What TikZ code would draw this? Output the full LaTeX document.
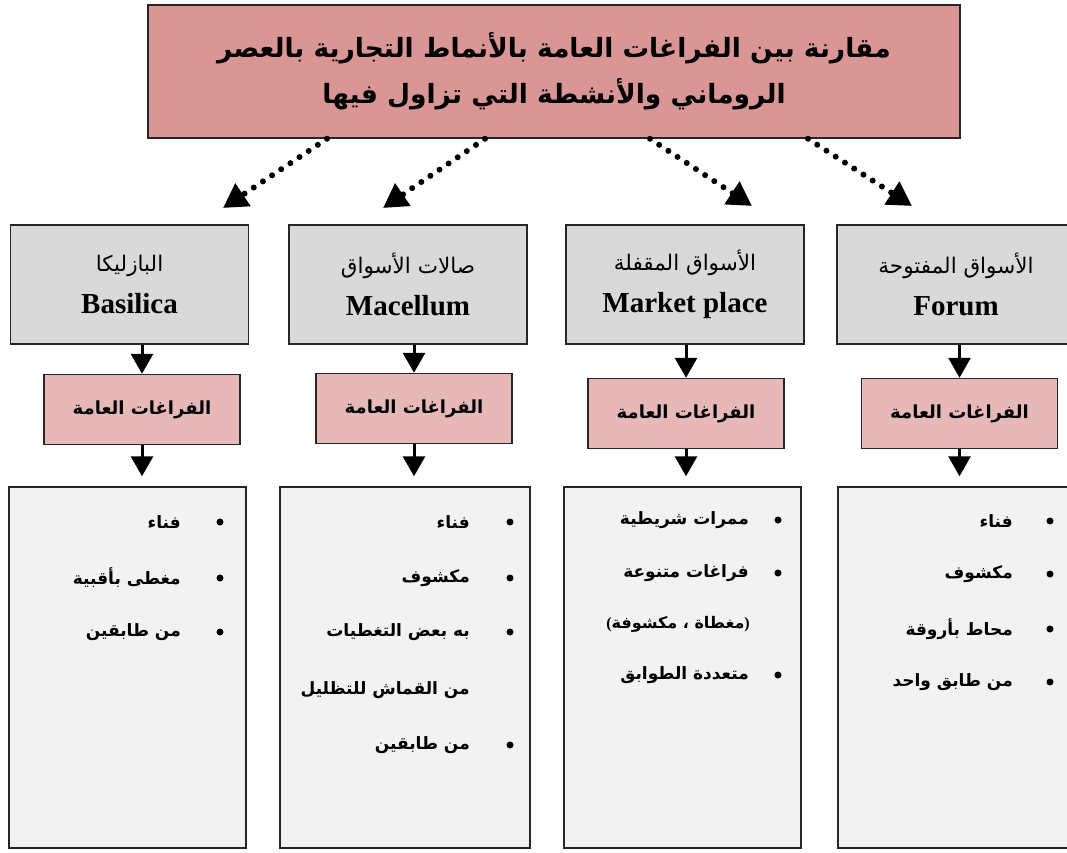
\documentclass[tikz,border=0pt]{standalone}
\usepackage{fontspec}
\setmainfont{Liberation Serif}
\newfontfamily\arabicfont[Script=Arabic]{DejaVu Sans}
\TeXXeTstate=1
\usetikzlibrary{arrows.meta}

\definecolor{titlepink}{RGB}{217,150,148}
\definecolor{spacepink}{RGB}{230,185,184}
\definecolor{headgrey}{RGB}{217,217,217}
\definecolor{listgrey}{RGB}{242,242,242}

\tikzset{
  box/.style={draw=black!85, line width=1.5pt, inner sep=0pt, align=center},
  titlebox/.style={box, fill=titlepink, minimum width=812pt, minimum height=133pt,
    font=\arabicfont\bfseries\fontsize{26.5}{46}\selectfont},
  headbox/.style={box, fill=headgrey, minimum width=238pt, minimum height=119pt},
  spacebox/.style={box, fill=spacepink, minimum width=196pt, minimum height=70pt,
    font=\arabicfont\bfseries\fontsize{18}{20}\selectfont},
  listbox/.style={box, fill=listgrey, minimum height=361pt},
  entry/.style={anchor=east, inner sep=0pt, font=\arabicfont\bfseries\fontsize{17}{20}\selectfont},
  itemdot/.style={circle, fill=black, inner sep=0pt, minimum size=7pt},
  godown/.style={line width=3pt, -{Triangle[length=20pt,width=22pt]}},
  linkdots/.style={line width=6pt, line cap=round, dash pattern=on 0pt off 11pt,
    -{Triangle[length=24pt,width=26pt]}},
}

\newcommand\headtext[2]{{\arabicfont\fontsize{21.5}{24}\selectfont\beginR #1\endR}\\[16pt]{\bfseries\fontsize{29}{30}\selectfont #2}}

\begin{document}
\begin{tikzpicture}[x=1pt,y=-1pt]
  \path[use as bounding box, fill=white] (0,0) rectangle (1067,852);

  \node[titlebox] (title) at (554,71.5)
    {\beginR مقارنة بين الفراغات العامة بالأنماط التجارية بالعصر\endR\\
     \beginR الروماني والأنشطة التي تزاول فيها\endR};

  \node[headbox] (head1) at (129.5,284.5) {\headtext{البازليكا}{Basilica}};
  \node[headbox] (head2) at (408,284.5) {\headtext{صالات الأسواق}{Macellum}};
  \node[headbox] (head3) at (685,284.5) {\headtext{الأسواق المقفلة}{Market place}};
  \node[headbox] (head4) at (956,284.5) {\headtext{الأسواق المفتوحة}{Forum}};

  \node[spacebox] (space1) at (142,409.5) {\beginR الفراغات العامة\endR};
  \node[spacebox] (space2) at (414,408.5) {\beginR الفراغات العامة\endR};
  \node[spacebox] (space3) at (686,413.5) {\beginR الفراغات العامة\endR};
  \node[spacebox] (space4) at (959.5,413.5) {\beginR الفراغات العامة\endR};

  \node[listbox, minimum width=237pt] (list1) at (127.5,667.5) {};
  \node[listbox, minimum width=250pt] (list2) at (405,667.5) {};
  \node[listbox, minimum width=237pt] (list3) at (682.5,667.5) {};
  \node[listbox, minimum width=238pt] (list4) at (957,667.5) {};

  \coordinate (tip1) at (223,208);
  \coordinate (tip2) at (383,208);
  \coordinate (tip3) at (752,206);
  \coordinate (tip4) at (912,206);
  \draw[linkdots] ([xshift=-227pt]title.south) -- (tip1);
  \draw[linkdots] ([xshift=-69pt]title.south) -- (tip2);
  \draw[linkdots] ([xshift=96pt]title.south) -- (tip3);
  \draw[linkdots] ([xshift=254pt]title.south) -- (tip4);

  \foreach \i in {1,...,4} {
    \draw[godown] (head\i.south -| space\i.north) -- (space\i.north);
    \draw[godown, shorten >=10pt] (space\i.south) -- (space\i.south |- list\i.north);
  }

  \foreach \y/\t [count=\i] in {522/فناء, 578/مغطى بأقبية, 632/من طابقين} {
    \node[itemdot] (dota\i) at (220,\y) {};
    \node[entry] (itema\i) at (181,\y) {\beginR\t\endR};
  }
  \foreach \y/\t [count=\i] in {522/فناء, 578/مكشوف, 632/به بعض التغطيات, 745/من طابقين} {
    \node[itemdot] (dotb\i) at (510,\y) {};
    \node[entry] (itemb\i) at (470,\y) {\beginR\t\endR};
  }
  \node[entry] (itemb5) at (470,690) {\beginR من القماش للتظليل\endR};
  \foreach \y/\t [count=\i] in {520/ممرات شريطية, 573/فراغات متنوعة, 675/متعددة الطوابق} {
    \node[itemdot] (dotc\i) at (778,\y) {};
    \node[entry] (itemc\i) at (749,\y) {\beginR\t\endR};
  }
  \node[entry, font=\arabicfont\bfseries\fontsize{16}{18}\selectfont] (itemc4) at (750,624)
    {{\rmfamily\bfseries(}\beginR مغطاة ، مكشوفة\endR{\rmfamily\bfseries)}};
  \foreach \y/\t [count=\i] in {521/فناء, 574/مكشوف, 629/محاط بأروقة, 682/من طابق واحد} {
    \node[itemdot] (dotd\i) at (1050,\y) {};
    \node[entry] (itemd\i) at (1013,\y) {\beginR\t\endR};
  }
\end{tikzpicture}
\end{document}
